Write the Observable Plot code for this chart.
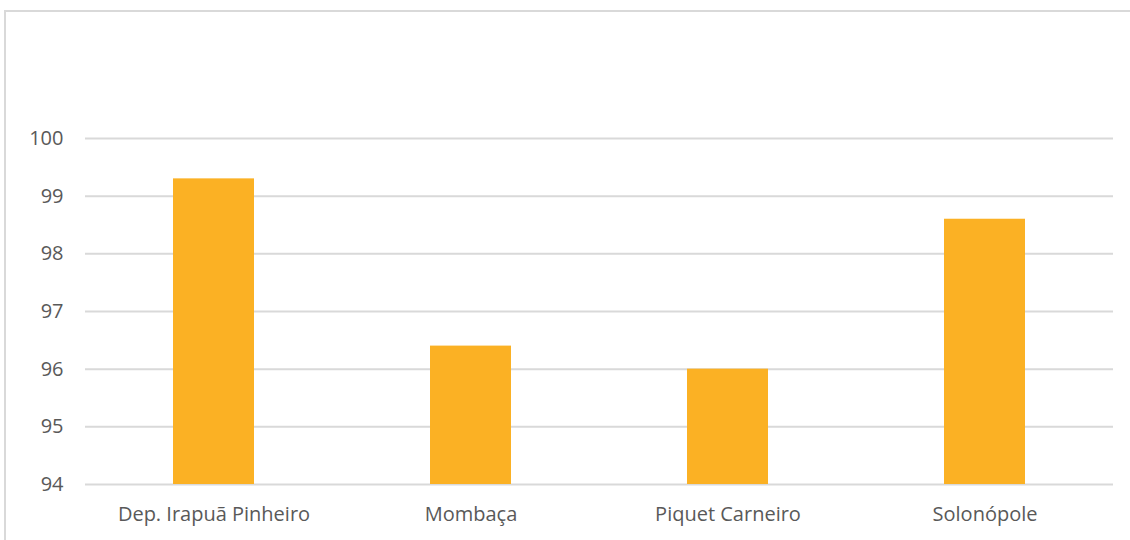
<!DOCTYPE html>
<html>
<head>
<meta charset="utf-8">
<script src="https://cdn.jsdelivr.net/npm/d3@7"></script>
<script src="https://cdn.jsdelivr.net/npm/@observablehq/plot@0.6"></script>
<style>
  html, body { margin: 0; padding: 0; background: #fff; overflow: hidden; }
  #wrap { position: relative; width: 1130px; height: 540px; }
  #border { position: absolute; left: 4px; top: 10px; width: 1140px; height: 560px; border: 2px solid #d9d9d9; box-sizing: border-box; pointer-events: none; }
  #chart { position: absolute; left: 0; top: 0; }
</style>
</head>
<body>
<div id="wrap"><div id="border"></div><div id="chart"></div></div>
<script>
const categories = ["Dep. Irapuã Pinheiro", "Mombaça", "Piquet Carneiro", "Solonópole"];
const values = [99.3, 96.4, 96.0, 98.6];
const yTicks = [94, 95, 96, 97, 98, 99, 100];

const data = categories.map((c, i) => ({category: c, value: values[i]}));

const chart = Plot.plot({
  width: 1130,
  height: 540,
  marginTop: 138,
  marginBottom: 56,
  marginLeft: 85,
  marginRight: 17,
  style: {fontFamily: "'Open Sans', sans-serif", fontSize: "20px", color: "#595959", background: "transparent"},
  x: {domain: categories, paddingInner: 0.685, paddingOuter: 0.3425, label: null},
  y: {domain: [94, 100], ticks: yTicks, label: null},
  marks: [
    Plot.gridY(yTicks, {stroke: "#d9d9d9", strokeOpacity: 1, strokeWidth: 2}),
    Plot.barY(data, {x: "category", y1: 94, y2: "value", fill: "#FBB124"}),
    Plot.axisY(yTicks, {tickSize: 0, tickPadding: 22, fontSize: 20, fill: "#595959", tickFormat: d => String(d)}),
    Plot.axisX({tickSize: 0, tickPadding: 22, fontSize: 20, fill: "#595959"})
  ]
});
document.getElementById("chart").appendChild(chart);
</script>
</body>
</html>
